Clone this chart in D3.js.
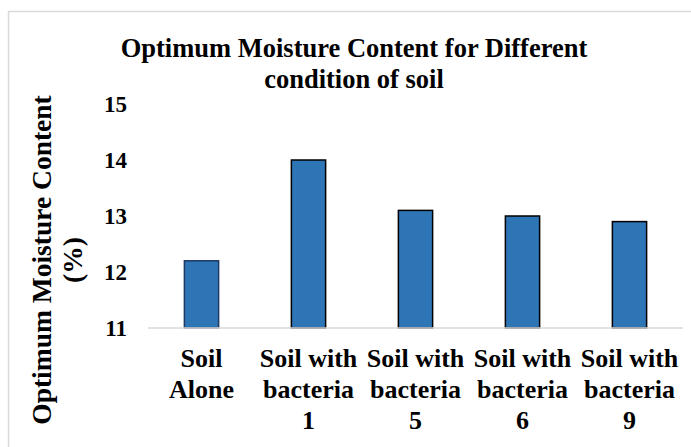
<!DOCTYPE html>
<html lang="en">
<head>
  <meta charset="UTF-8" />
  <title>Optimum Moisture Content</title>
  <script src="https://d3js.org/d3.v7.min.js"></script>
  <style>
    html, body {
      margin: 0;
      padding: 0;
      background: #fff;
      overflow: hidden;
    }
    svg {
      display: block;
    }
    svg text {
      font-family: "Liberation Serif", "Times New Roman", Times, "DejaVu Serif", serif;
      font-weight: bold;
    }
  </style>
</head>
<body>
  <svg width="691" height="447"></svg>

  <script>
    // chart data
    const categories = ["Soil Alone", "Soil with bacteria 1", "Soil with bacteria 5", "Soil with bacteria 6", "Soil with bacteria 9"];
    const categoryLines = [
      ["Soil", "Alone"],
      ["Soil with", "bacteria", "1"],
      ["Soil with", "bacteria", "5"],
      ["Soil with", "bacteria", "6"],
      ["Soil with", "bacteria", "9"]
    ];
    const moisture = [12.2, 14.0, 13.1, 13.0, 12.9];
    const yTicks = [11, 12, 13, 14, 15];
    const titleLines = ["Optimum Moisture Content for Different", "condition of soil"];
    const yTitleLines = ["Optimum Moisture Content", "(%)"];

    const svg = d3.select("svg");
    const plot = { left: 148, right: 683, top: 104, bottom: 328 };

    // outer chart border (runs off the right/bottom edges)
    svg.append("rect")
      .attr("x", 8.5).attr("y", 11.5)
      .attr("width", 700).attr("height", 460)
      .attr("fill", "none")
      .attr("stroke", "#d9d9d9")
      .attr("stroke-width", 1.5);

    const x = d3.scaleBand()
      .domain(categories)
      .range([plot.left, plot.right])
      .paddingInner(0.68)
      .paddingOuter(0.34);

    const y = d3.scaleLinear()
      .domain([11, 15])
      .range([plot.bottom, plot.top]);

    // bars
    svg.selectAll("rect.bar")
      .data(moisture)
      .enter()
      .append("rect")
      .attr("class", "bar")
      .attr("x", (d, i) => x(categories[i]))
      .attr("y", d => y(d))
      .attr("width", x.bandwidth())
      .attr("height", d => y(11) - y(d))
      .attr("fill", "#2e75b6")
      .attr("stroke", (d, i) => i === 0 ? "#1f3864" : "#000")
      .attr("stroke-width", 1.5);

    // baseline
    svg.append("line")
      .attr("x1", plot.left).attr("x2", plot.right)
      .attr("y1", y(11)).attr("y2", y(11))
      .attr("stroke", "#d9d9d9")
      .attr("stroke-width", 1.5);

    // y axis tick labels
    const yAxis = d3.axisLeft(y).tickValues(yTicks).tickFormat(d3.format("d")).tickSize(0).tickPadding(0);
    const yg = svg.append("g")
      .attr("transform", "translate(127,0)")
      .call(yAxis)
      .attr("font-family", null)
      .attr("font-size", null);
    yg.select(".domain").remove();
    yg.selectAll("text")
      .style("font-size", "23px")
      .attr("fill", "#000")
      .attr("dy", "0.33em");

    // x category labels
    const xl = svg.append("g");
    categories.forEach((c, i) => {
      const cx = x(c) + x.bandwidth() / 2;
      const t = xl.append("text")
        .attr("x", cx)
        .attr("y", 367)
        .attr("text-anchor", "middle")
        .style("font-size", "26px")
        .attr("fill", "#000");
      categoryLines[i].forEach((ln, j) => {
        t.append("tspan")
          .attr("x", cx)
          .attr("dy", j === 0 ? 0 : 31)
          .text(ln);
      });
    });

    // title
    titleLines.forEach((ln, i) => {
      svg.append("text")
        .attr("x", 354)
        .attr("y", 57 + i * 31)
        .attr("text-anchor", "middle")
        .style("font-size", "26.5px")
        .attr("fill", "#000")
        .text(ln);
    });

    // y axis title
    yTitleLines.forEach((ln, i) => {
      svg.append("text")
        .attr("transform", `translate(${51 + i * 31},260) rotate(-90)`)
        .attr("text-anchor", "middle")
        .style("font-size", "27.5px")
        .attr("fill", "#000")
        .text(ln);
    });
  </script>
</body>
</html>
